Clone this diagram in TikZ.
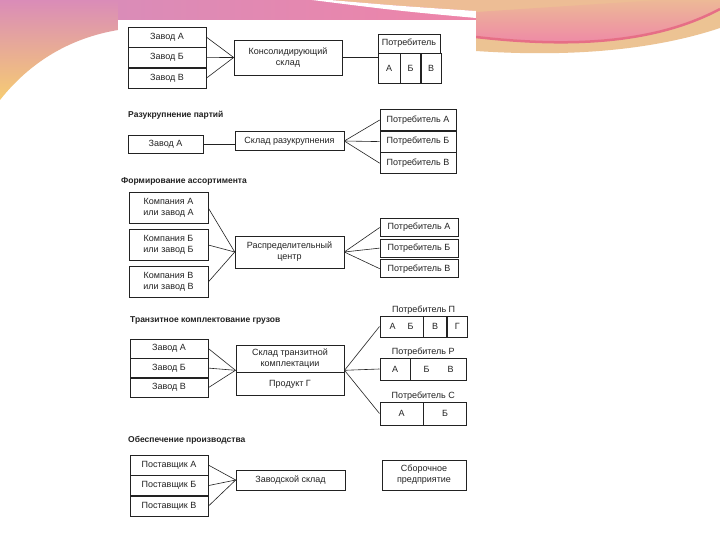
\documentclass[tikz,border=0pt]{standalone}
\usepackage{fontspec}
\setmainfont{Liberation Sans}
\usepackage{tikz}
\usetikzlibrary{positioning,fit,shapes}

\definecolor{inkgray}{HTML}{222222}
\definecolor{wavemauve}{HTML}{DA8CB8}
\definecolor{waveyellow}{HTML}{F6CC72}
\definecolor{wavepink}{HTML}{EE84A8}
\definecolor{waveapricot}{HTML}{EDBD95}
\definecolor{wavered}{HTML}{E66E86}
\definecolor{wavetan}{HTML}{ECC393}

\begin{document}
\begin{tikzpicture}
	[ x=1pt,y=-1pt,
		construct/.style={rectangle,draw=inkgray,line width=0.6pt,inner sep=1pt,align=center,text=inkgray,font=\fontsize{9}{11}\selectfont},
		heading/.style={anchor=west,inner sep=1pt,text=inkgray,font=\bfseries\fontsize{8.5}{10}\selectfont},
		label/.style={inner sep=1pt,text=inkgray,font=\fontsize{9}{11}\selectfont},
		conn/.style={draw=inkgray,line width=0.6pt}]

	% slide background with the wave
	\useasboundingbox (0,0) rectangle (720,540);
	\fill[white] (0,0) rectangle (720,540);
	\shade[top color=wavemauve,bottom color=waveyellow] (0,0) -- (118,0) -- (118,30) .. controls (70,38) and (30,62) .. (0,100) -- cycle;
	\shade[left color=wavemauve,right color=wavepink] (118,0) rectangle (476,20);
	\fill[waveapricot] (330,0) -- (476,0) -- (476,11) .. controls (400,6) .. (330,0) -- cycle;
	\fill[white] (312,0) -- (330,0) .. controls (400,6) .. (476,11) -- (476,18) .. controls (400,11) .. (312,0) -- cycle;
	\fill[wavetan] (476,0) -- (720,0) -- (720,28) .. controls (660,48) and (580,58) .. (476,51) -- cycle;
	\fill[waveapricot] (476,0) -- (720,0) -- (720,8) .. controls (660,40) and (580,48) .. (476,36) -- cycle;
	\shade[top color=waveapricot,bottom color=wavepink] (476,12) -- (720,-4) -- (720,8) .. controls (660,40) and (580,48) .. (476,36) -- cycle;
	\draw[wavered,line width=2.5pt] (720,9) .. controls (660,41) and (580,49) .. (476,37);
	\fill[white] (118,20) rectangle (476,522);

	% consolidation
	\node[construct,minimum width=108pt,minimum height=35pt] (cons sklad) at (288,57.5) {Консолидирующий\\склад};
	\node[construct,minimum width=78pt,minimum height=20pt] (zavod a1) at (167,37) {Завод А};
	\node[construct,minimum width=78pt,minimum height=20pt,below=0pt of zavod a1] (zavod b1) {Завод Б};
	\node[construct,minimum width=78pt,minimum height=20pt,below=0pt of zavod b1] (zavod v1) {Завод В};
	\draw[conn] (zavod a1.east) -- (cons sklad.west);
	\draw[conn] (zavod b1.east) -- (cons sklad.west);
	\draw[conn] (zavod v1.east) -- (cons sklad.west);

	\node[construct,minimum width=62pt,minimum height=19pt] (potr head1) at (409,43.5) {Потребитель};
	\node[construct,minimum width=22pt,minimum height=30pt,anchor=north west] (potr a1) at (potr head1.south west) {А};
	\node[construct,minimum width=20pt,minimum height=30pt,right=0pt of potr a1] (potr b1) {Б};
	\node[construct,minimum width=20pt,minimum height=30pt,right=0pt of potr b1] (potr v1) {В};
	\node[fit=(potr head1)(potr v1),inner sep=0pt] (potr combo1) {};
	\draw[conn] (cons sklad.east) -- (cons sklad.east -| potr combo1.west);

	% break-bulk
	\node[heading] (title razuk) at (127,115) {Разукрупнение партий};
	\node[construct,minimum width=109pt,minimum height=19pt] (razuk sklad) at (289.5,141) {Склад разукрупнения};
	\node[construct,minimum width=75pt,minimum height=18pt] (zavod a2) at (165.5,144) {Завод А};
	\draw[conn] (zavod a2.east) -- (zavod a2.east -| razuk sklad.west);

	\node[construct,minimum width=76pt,minimum height=21pt] (potr a2) at (418,120) {Потребитель А};
	\node[construct,minimum width=76pt,minimum height=21pt,below=0pt of potr a2] (potr b2) {Потребитель Б};
	\node[construct,minimum width=76pt,minimum height=21pt,below=0pt of potr b2] (potr v2) {Потребитель В};
	\draw[conn] (razuk sklad.east) -- (potr a2.west);
	\draw[conn] (razuk sklad.east) -- (potr b2.west);
	\draw[conn] (razuk sklad.east) -- (potr v2.west);

	% assortment
	\node[heading] (title assort) at (120,181) {Формирование ассортимента};
	\node[construct,minimum width=109pt,minimum height=32pt] (rasp centr) at (289.5,252) {Распределительный\\центр};
	\node[construct,minimum width=79pt,minimum height=31pt] (komp a3) at (168.5,208) {Компания А\\или завод А};
	\node[construct,minimum width=79pt,minimum height=31pt] (komp b3) at (168.5,245) {Компания Б\\или завод Б};
	\node[construct,minimum width=79pt,minimum height=31pt] (komp v3) at (168.5,282) {Компания В\\или завод В};
	\draw[conn] (komp a3.east) -- (rasp centr.west);
	\draw[conn] (komp b3.east) -- (rasp centr.west);
	\draw[conn] (komp v3.east) -- (rasp centr.west);

	\node[construct,minimum width=78pt,minimum height=18pt] (potr a3) at (419,227.5) {Потребитель А};
	\node[construct,minimum width=78pt,minimum height=18pt,below=2pt of potr a3] (potr b3) {Потребитель Б};
	\node[construct,minimum width=78pt,minimum height=18pt,below=2pt of potr b3] (potr v3) {Потребитель В};
	\draw[conn] (rasp centr.east) -- (potr a3.west);
	\draw[conn] (rasp centr.east) -- (potr b3.west);
	\draw[conn] (rasp centr.east) -- (potr v3.west);

	% transit consolidation
	\node[heading] (title tranzit) at (129,320) {Транзитное комплектование грузов};
	\node[construct,minimum width=108pt,minimum height=27pt] (tranzit sklad) at (290,358.5) {Склад транзитной\\комплектации};
	\node[construct,minimum width=108pt,minimum height=23pt,below=0pt of tranzit sklad] (produkt g) {Продукт Г};
	\node[fit=(tranzit sklad)(produkt g),inner sep=0pt] (tranzit combo) {};
	\node[construct,minimum width=78pt,minimum height=19pt] (zavod a4) at (169,348.5) {Завод А};
	\node[construct,minimum width=78pt,minimum height=19pt,below=0pt of zavod a4] (zavod b4) {Завод Б};
	\node[construct,minimum width=78pt,minimum height=19pt,below=0pt of zavod b4] (zavod v4) {Завод В};
	\draw[conn] (zavod a4.east) -- (tranzit combo.west);
	\draw[conn] (zavod b4.east) -- (tranzit combo.west);
	\draw[conn] (zavod v4.east) -- (tranzit combo.west);

	\node[construct,minimum width=43pt,minimum height=21pt] (potr p a) at (401.5,326.5) {А\hspace{12pt}Б};
	\node[construct,minimum width=23pt,minimum height=21pt,right=0pt of potr p a] (potr p v) {В};
	\node[construct,minimum width=20pt,minimum height=21pt,right=0pt of potr p v] (potr p g) {Г};
	\node[fit=(potr p a)(potr p g),inner sep=0pt] (potr p combo) {};
	\node[label,above=0pt of potr p combo] (potr p name) {Потребитель П};

	\node[construct,minimum width=30pt,minimum height=22pt] (potr r a) at (395,369) {А};
	\node[construct,minimum width=56pt,minimum height=22pt,right=0pt of potr r a] (potr r bv) {Б\hspace{18pt}В};
	\node[fit=(potr r a)(potr r bv),inner sep=0pt] (potr r combo) {};
	\node[label,above=0pt of potr r combo] (potr r name) {Потребитель Р};

	\node[construct,minimum width=43pt,minimum height=23pt] (potr s a) at (401.5,413.5) {А};
	\node[construct,minimum width=43pt,minimum height=23pt,right=0pt of potr s a] (potr s b) {Б};
	\node[fit=(potr s a)(potr s b),inner sep=0pt] (potr s combo) {};
	\node[label,above=0pt of potr s combo] (potr s name) {Потребитель С};

	\draw[conn] (tranzit combo.east) -- (potr p combo.west);
	\draw[conn] (tranzit combo.east) -- (potr r combo.west);
	\draw[conn] (tranzit combo.east) -- (potr s combo.west);

	% supply of production
	\node[heading] (title obesp) at (127,440) {Обеспечение производства};
	\node[construct,minimum width=109pt,minimum height=20pt] (zavod sklad) at (290.5,480) {Заводской склад};
	\node[construct,minimum width=78pt,minimum height=20pt] (post a5) at (169,465) {Поставщик А};
	\node[construct,minimum width=78pt,minimum height=20pt,below=0pt of post a5] (post b5) {Поставщик Б};
	\node[construct,minimum width=78pt,minimum height=20pt,below=0pt of post b5] (post v5) {Поставщик В};
	\draw[conn] (post a5.east) -- (zavod sklad.west);
	\draw[conn] (post b5.east) -- (zavod sklad.west);
	\draw[conn] (post v5.east) -- (zavod sklad.west);

	\node[construct,minimum width=84pt,minimum height=30pt] (sborka) at (424,475) {Сборочное\\предприятие};
\end{tikzpicture}
\end{document}
